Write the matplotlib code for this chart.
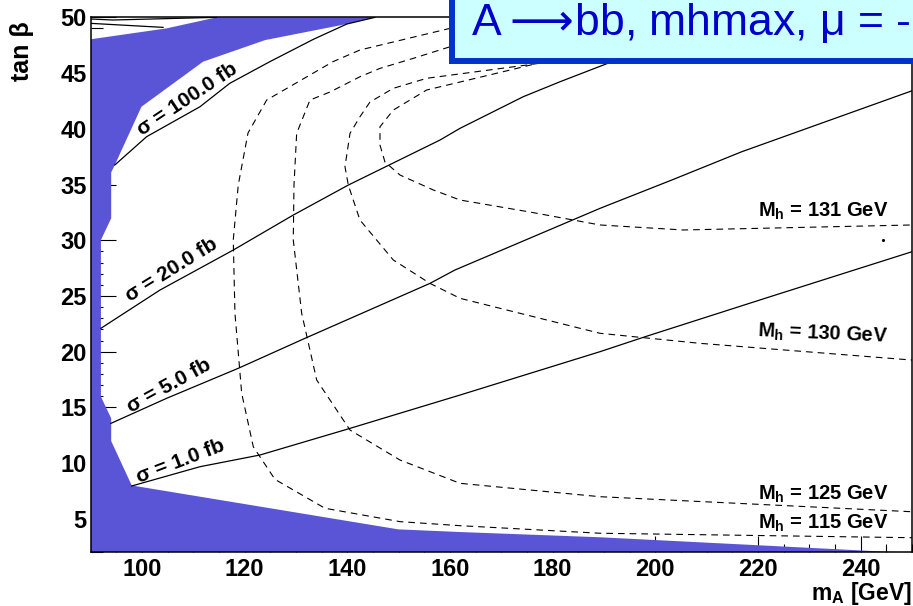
import matplotlib
matplotlib.use('Agg')
import matplotlib.pyplot as plt
from matplotlib.patches import Rectangle
from matplotlib.ticker import MultipleLocator

plt.rcParams['font.family'] = ['Liberation Sans', 'DejaVu Sans']

# excluded region (filled)
excl_mA = [90, 104.8, 114.55, 145.4, 139.9, 124.0, 111.9, 99.9, 94.7, 94.0, 94.0, 92.0,
           92.0, 94.0, 94.0, 98.0, 149.9, 161.9, 189.2, 245.1, 250, 90]
excl_tb = [48.03, 49.01, 50.0, 50.0, 49.4, 47.96, 46.02, 41.98, 36.75, 36.09, 31.97, 30.02,
           15.96, 14.02, 11.98, 8.0, 4.06, 3.82, 3.35, 2.05, 2.0, 2.0]

# cross-section contours (solid)
sig100_mA = [94.7, 100.9, 111.3, 117.1, 124.9, 133.4, 139.9, 145.4]
sig100_tb = [36.75, 39.29, 41.98, 44.08, 46.02, 48.03, 49.40, 50.0]
sig20_mA = [92.0, 103.5, 117.78, 129.47, 140.19, 158.05, 161.95, 174.28, 181.43, 189.87, 213.9]
sig20_tb = [22.10, 25.53, 29.12, 32.26, 34.95, 38.99, 40.04, 42.88, 44.22, 45.72, 50.0]
sig5_mA = [93.95, 104.81, 118.76, 131.75, 156.10, 160.97, 189.22, 203.19, 216.83, 250.0]
sig5_tb = [13.57, 15.82, 18.51, 21.20, 26.13, 27.33, 32.86, 35.40, 37.94, 43.41]
sig1_mA = [97.99, 111.29, 122.98, 139.87, 161.95, 189.22, 197.99, 222.34, 250.0]
sig1_tb = [7.95, 9.68, 10.73, 13.03, 16.11, 20.00, 21.34, 24.93, 28.97]
top_a_mA = [90, 104.1]
top_a_tb = [49.46, 49.10]
top_b_mA = [90, 94.3, 114.5]
top_b_tb = [49.85, 49.76, 50.0]

# light Higgs mass contours (dashed)
mh115_mA = [168.96, 160.0, 142.46, 137.2, 124.29, 120.65, 118.75, 117.78, 118.11, 119.42,
            121.68, 125.91, 135.65, 150.26, 161.95, 189.22, 250.0]
mh115_tb = [50.0, 49.01, 47.07, 46.02, 42.58, 39.62, 34.95, 30.02, 23.44, 16.27,
            11.47, 8.54, 5.95, 4.75, 4.39, 3.71, 3.31]
mh125_mA = [177.15, 160.0, 152.85, 146.36, 142.46, 136.62, 132.72, 130.13, 129.61, 129.47,
            131.11, 134.03, 140.52, 150.26, 161.95, 189.22, 250.0]
mh125_tb = [50.0, 47.36, 46.32, 45.42, 44.67, 43.30, 42.58, 39.59, 34.95, 30.02,
            23.44, 17.46, 12.97, 10.28, 8.19, 6.99, 5.64]
mh130_mA = [193.05, 174.94, 155.46, 148.95, 144.41, 142.46, 140.52, 139.54, 140.19, 142.46,
            148.95, 156.10, 161.95, 189.22, 208.7, 250.0]
mh130_tb = [46.89, 45.72, 44.53, 43.63, 42.40, 41.08, 39.59, 36.60, 34.95, 31.81,
            28.23, 26.13, 24.79, 21.65, 20.75, 19.25]
mh131_mA = [189.22, 171.69, 155.46, 148.95, 146.36, 146.36, 147.33, 150.26, 156.75, 161.95,
            175.59, 189.22, 205.45, 250.0]
mh131_tb = [47.25, 45.27, 43.48, 41.68, 40.18, 38.54, 37.02, 35.85, 34.51, 33.61,
            32.53, 31.37, 30.92, 31.37]

fig = plt.figure(figsize=(9.13, 6.06), dpi=100)
ax = fig.add_axes([0.0993, 0.0886, 0.8996, 0.8828])
ax.set_axisbelow(True)

ax.fill(excl_mA, excl_tb, color='#5a55d7', lw=0, zorder=1)

for xs, ys in [(sig100_mA, sig100_tb), (sig20_mA, sig20_tb), (sig5_mA, sig5_tb),
               (sig1_mA, sig1_tb), (top_a_mA, top_a_tb), (top_b_mA, top_b_tb)]:
    ax.plot(xs, ys, color='black', lw=0.9, zorder=2)

for xs, ys in [(mh115_mA, mh115_tb), (mh125_mA, mh125_tb), (mh130_mA, mh130_tb),
               (mh131_mA, mh131_tb)]:
    ax.plot(xs, ys, color='black', lw=0.8, ls=(0, (6, 4.5)), zorder=2)

ax.plot([244.4], [30.02], 'k.', ms=2.5, zorder=2)

sig = dict(fontsize=15, fontweight='bold', rotation_mode='anchor', zorder=3,
           ha='center', va='center')
ax.text(108.76, 42.66, 'σ = 100.0 fb', rotation=33.6, **sig)
ax.text(105.84, 27.33, 'σ = 20.0 fb', rotation=31.7, **sig)
ax.text(105.25, 16.93, 'σ = 5.0 fb', rotation=28.8, **sig)
ax.text(107.59, 10.2, 'σ = 1.0 fb', rotation=20.8, **sig)

mh = dict(fontsize=14.5, fontweight='bold', rotation_mode='anchor', zorder=3,
          ha='right', va='baseline')
ax.text(245.3, 32.11, r'M$_\mathregular{h}$ = 131 GeV', **mh)
ax.text(245.3, 20.87, r'M$_\mathregular{h}$ = 130 GeV', rotation=-2.5, **mh)
ax.text(245.3, 6.76, r'M$_\mathregular{h}$ = 125 GeV', **mh)
ax.text(245.3, 4.09, r'M$_\mathregular{h}$ = 115 GeV', **mh)

ax.set_xlim(90, 250)
ax.set_ylim(2, 50)
ax.xaxis.set_major_locator(MultipleLocator(20))
ax.xaxis.set_minor_locator(MultipleLocator(5))
ax.yaxis.set_major_locator(MultipleLocator(5))
ax.yaxis.set_minor_locator(MultipleLocator(1))
ax.tick_params(axis='x', which='major', direction='in', length=11.5, width=0.8, pad=4)
ax.tick_params(axis='x', which='minor', direction='in', length=5.8, width=0.8)
ax.tick_params(axis='y', which='major', direction='in', length=17.7, width=0.8, pad=3)
ax.tick_params(axis='y', which='minor', direction='in', length=8.9, width=0.8)
for t in ax.get_xticklabels() + ax.get_yticklabels():
    t.set_fontsize(17)
    t.set_fontweight('bold')
for s in ax.spines.values():
    s.set_linewidth(1.1)

fig.text(0.024, 0.9653, 'tan β', rotation=90, ha='center', va='top',
         fontsize=18, fontweight='bold')
fig.text(0.999, 0.0095, r'm$_\mathregular{A}$ [GeV]', ha='right', va='baseline',
         fontsize=16.5, fontweight='bold')

# title box, cut by the figure edge
fig.patches.append(Rectangle((0.4951, 0.8993), 0.6, 0.2, transform=fig.transFigure,
                             facecolor='#ccffff', edgecolor='#0033cc', lw=4.3, zorder=5))
fig.text(0.516, 0.942, r'A$\longrightarrow\!$bb, mhmax, μ = -', ha='left', va='baseline',
         fontsize=32, color='#0000cc', zorder=6)

fig.savefig('out.png', dpi=100)
